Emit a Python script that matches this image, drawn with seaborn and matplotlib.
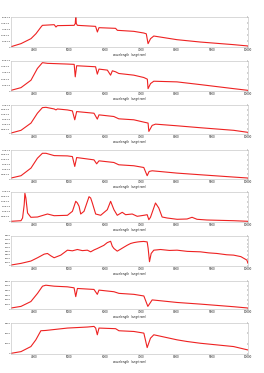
import matplotlib
matplotlib.use("Agg")
import matplotlib.pyplot as plt
import numpy as np
import pandas as pd
import seaborn as sns

sns.set_style("white")
plt.rcParams['font.family'] = ['DejaVu Sans']

# wavelength (angstrom) / flux pairs
wl1 = [3360, 3640, 3920, 4060, 4200, 4240, 4570, 4620, 4660, 5130, 5160, 5175, 5190, 5220,
       5730, 5780, 5825, 6290, 6340, 6800, 7080, 7150, 7200, 7270, 7360, 8010, 8660, 9600, 10000]
fl1 = [0.05, 0.56, 1.39, 2.22, 3.33, 3.61, 3.72, 3.33, 3.56, 3.61, 3.9, 5.2, 3.9, 3.61,
       3.44, 2.5, 3.22, 3.11, 2.78, 2.61, 2.33, 2.2, 0.56, 1.39, 1.83, 1.22, 0.83, 0.39, 0.17]

wl2 = [3360, 3640, 3920, 4100, 4240, 4380, 4940, 5130, 5160, 5200, 5730, 5778, 5825, 6060,
       6150, 6200, 6290, 6380, 6800, 7080, 7180, 7200, 7270, 7360, 8010, 8660, 9600, 10000]
fl2 = [0.11, 0.56, 1.8, 3.76, 4.72, 4.61, 4.49, 4.44, 2.36, 4.21, 4.04, 2.81, 3.65, 3.48,
       2.64, 3.37, 3.2, 2.92, 2.64, 2.25, 1.97, 0.39, 1.24, 1.63, 1.52, 1.07, 0.39, 0.11]

wl3 = [3360, 3640, 3920, 4100, 4240, 4340, 4570, 4620, 4660, 4940, 5080, 5146, 5200, 5685,
       5778, 5825, 6240, 6380, 6800, 7080, 7200, 7222, 7315, 7410, 8010, 8660, 9600, 10000]
fl3 = [0.1, 0.38, 1.13, 2.15, 2.73, 2.76, 2.59, 2.49, 2.59, 2.49, 2.39, 1.47, 2.32, 2.15,
       1.54, 1.98, 1.81, 1.57, 1.47, 1.23, 1.13, 0.27, 0.89, 1.02, 0.85, 0.65, 0.38, 0.17]

wl4 = [3360, 3640, 3920, 4100, 4240, 4340, 4570, 4940, 5080, 5146, 5200, 5685, 5760, 5825,
       6240, 6380, 6800, 7080, 7175, 7230, 7315, 8010, 8660, 9600, 10000]
fl4 = [0.1, 0.34, 1.13, 2.15, 2.66, 2.66, 2.42, 2.39, 2.32, 1.3, 2.22, 1.98, 1.57, 1.88,
       1.71, 1.47, 1.37, 1.19, 0.34, 0.78, 0.85, 0.61, 0.44, 0.2, 0.1]

wl5 = [3360, 3640, 3684, 3730, 3749, 3777, 3824, 3917, 4103, 4382, 4568, 4941, 5081, 5174,
       5220, 5267, 5313, 5406, 5546, 5592, 5639, 5732, 5872, 6058, 6151, 6244, 6337, 6477,
       6570, 6756, 6896, 7082, 7175, 7222, 7268, 7408, 7501, 7594, 7734, 8013, 8292, 8432,
       8572, 8851, 9596, 10000]
fl5 = [0.07, 0.13, 0.4, 1.73, 2.87, 2.4, 0.9, 0.47, 0.5, 0.8, 0.63, 0.67, 1.07, 2.07,
       1.9, 1.57, 0.8, 1.07, 2.53, 2.4, 1.9, 0.8, 0.67, 1.23, 2.07, 1.23, 0.67, 0.97,
       0.73, 0.8, 0.57, 0.67, 0.73, 0.23, 0.47, 1.9, 1.4, 0.5, 0.4, 0.27, 0.3, 0.47,
       0.27, 0.2, 0.13, 0.07]

wl6 = [3360, 3640, 3917, 4103, 4289, 4382, 4475, 4568, 4755, 4941, 5080, 5220, 5360, 5499,
       5592, 5690, 5778, 5872, 5960, 6058, 6151, 6198, 6244, 6337, 6430, 6520, 6616, 6710,
       6803, 6900, 6989, 7080, 7175, 7203, 7240, 7287, 7361, 7450, 7548, 7800, 8013, 8300,
       8665, 8900, 9130, 9400, 9596, 9800, 9968, 10000]
fl6 = [260, 700, 1320, 2200, 3160, 3340, 2720, 2200, 2900, 4220, 4050, 4400, 4100, 4220,
       3780, 4300, 4660, 5100, 5500, 6240, 6590, 5270, 4660, 3960, 4480, 5000, 5540, 6000,
       6240, 6400, 6500, 6550, 6420, 4660, 1140, 3340, 4220, 4300, 4400, 4150, 4220, 3900,
       3780, 3500, 3340, 3000, 2900, 2500, 1580, 700]

wl7 = [3360, 3640, 3917, 4103, 4243, 4336, 4568, 4941, 5127, 5174, 5220, 5685, 5778, 5825,
       6244, 6384, 6803, 7082, 7194, 7315, 8013, 8665, 9596, 10000]
fl7 = [210, 560, 1600, 3350, 4890, 5100, 4890, 4750, 4540, 2650, 4400, 4190, 3140, 4050,
       3700, 3350, 3140, 2790, 560, 1950, 1400, 1050, 490, 210]

wl8 = [3360, 3640, 3917, 4056, 4196, 4336, 4941, 5499, 5685, 5732, 5778, 5825, 6291, 6384,
       6803, 7082, 7175, 7268, 7361, 8013, 8292, 8665, 9596, 10000]
fl8 = [65, 230, 720, 1370, 2250, 2280, 2510, 2610, 2670, 2510, 1860, 2510, 2450, 2250,
       2180, 2020, 620, 1530, 1860, 1370, 1210, 1040, 720, 390]

spectra = [(wl1, fl1), (wl2, fl2), (wl3, fl3), (wl4, fl4),
           (wl5, fl5), (wl6, fl6), (wl7, fl7), (wl8, fl8)]

# y axis: limit, tick step, label style
yspecs = [(5, 1, 'sci'), (5, 1, 'sci'), (3, 0.5, 'sci'), (3, 0.5, 'sci'),
          (3, 0.5, 'sci'), (8000, 1000, 'int'), (6000, 1000, 'int'), (3000, 1000, 'int')]

# panel top / bottom in pixels from the top of the 264x373 image
boxes = [(17, 47), (61, 91), (105, 134), (150, 179),
         (192, 222), (236, 266), (281, 309), (323, 354)]

W, H = 264, 373
fig = plt.figure(figsize=(W / 100, H / 100), dpi=100)

for (wl, fl), (ymax, step, style), (top, bot) in zip(spectra, yspecs, boxes):
    ax = fig.add_axes([11 / W, 1 - bot / H, 237 / W, (bot - top) / H])
    df = pd.DataFrame({'wavelength': wl, 'flux': fl})
    sns.lineplot(data=df, x='wavelength', y='flux', ax=ax, color='#ee2222', lw=0.8)
    ax.set_xlim(3360, 10000)
    ax.set_ylim(0, ymax)
    ax.set_xticks(np.arange(4000, 10001, 1000))
    yt = np.arange(0, ymax + step / 2, step)
    ax.set_yticks(yt)
    if style == 'sci':
        ax.set_yticklabels(['0'] + ['%.1fe-15' % v for v in yt[1:]])
    else:
        ax.set_yticklabels(['%d' % v for v in yt])
    ax.tick_params(axis='x', labelsize=2.0, length=1, width=0.3, pad=0.8,
                   colors='#222222', top=False, direction='in')
    ax.tick_params(axis='y', labelsize=1.7, length=1, width=0.3, pad=0.4,
                   colors='#222222', right=True, direction='in')
    ax.set_xlabel('wavelength  (angstrom)', fontsize=2.0, labelpad=0.4, color='#222222')
    ax.set_ylabel('relative flux', fontsize=1.8, color='#222222')
    ax.yaxis.set_label_coords(-0.036, 0.5)
    for s in ax.spines.values():
        s.set_linewidth(0.4)
        s.set_color('#bbbbbb')

fig.savefig('out.png', dpi=100)
